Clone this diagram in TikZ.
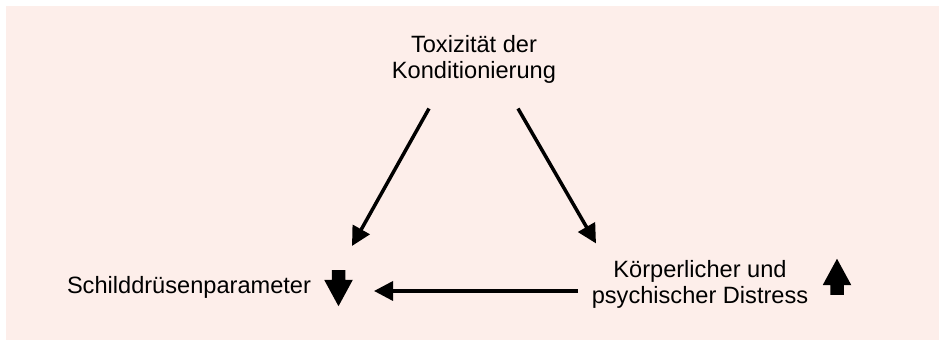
\documentclass[tikz,border=0pt]{standalone}
\usepackage{fontspec}
\setmainfont{Liberation Sans}
\usepackage{tikz}
\usetikzlibrary{arrows.meta, shapes.arrows}

\definecolor{bgpink}{RGB}{253,238,234}

\begin{document}
\begin{tikzpicture}[
            x = 0.5pt, y = 0.5pt, % one unit is one pixel of the sketch
            > = {Triangle[length=9.5pt, width=9.5pt]}, % arrow head style
            font = \fontsize{11.8}{13.3}\selectfont,
            line width = 1.75pt % line style
        ]

        \tikzstyle{every node}=[inner sep = 0pt]
        \tikzstyle{label text}=[align = center]
        \tikzstyle{trend}=[
            single arrow,
            fill = black,
            inner xsep = 0pt,
            inner ysep = 2.5pt, % half the shaft
            minimum height = 18pt,
            single arrow head extend = 3.75pt,
            single arrow tip angle = 57
        ]

        % background
        \useasboundingbox (0,0) rectangle (939,340);
        \fill[bgpink] (6,0) rectangle (939,334);

        \node[label text] (tox) at (474,280.5) {Toxizität der\\Konditionierung};
        \node[label text, anchor=base] (schild) at (189,46) {Schilddrüsenparameter};
        \node[label text] (distress) at (700,55.5) {Körperlicher und\\psychischer Distress};
        \node[trend, rotate=-90] (down) at (338.5,58) {};
        \node[trend, rotate=90] (up) at (837,57) {};

        \draw[->] ([shift={(-45,-23)}]tox.south) -- ([shift={(13.5,36)}]down.center);
        \draw[->] ([shift={(44,-23)}]tox.south) -- ([shift={(-104,15)}]distress.north);
        \draw[->] ([shift={(-12,-6.5)}]distress.west) -- ([shift={(35.5,-9)}]down.center);

  \end{tikzpicture}
\end{document}
